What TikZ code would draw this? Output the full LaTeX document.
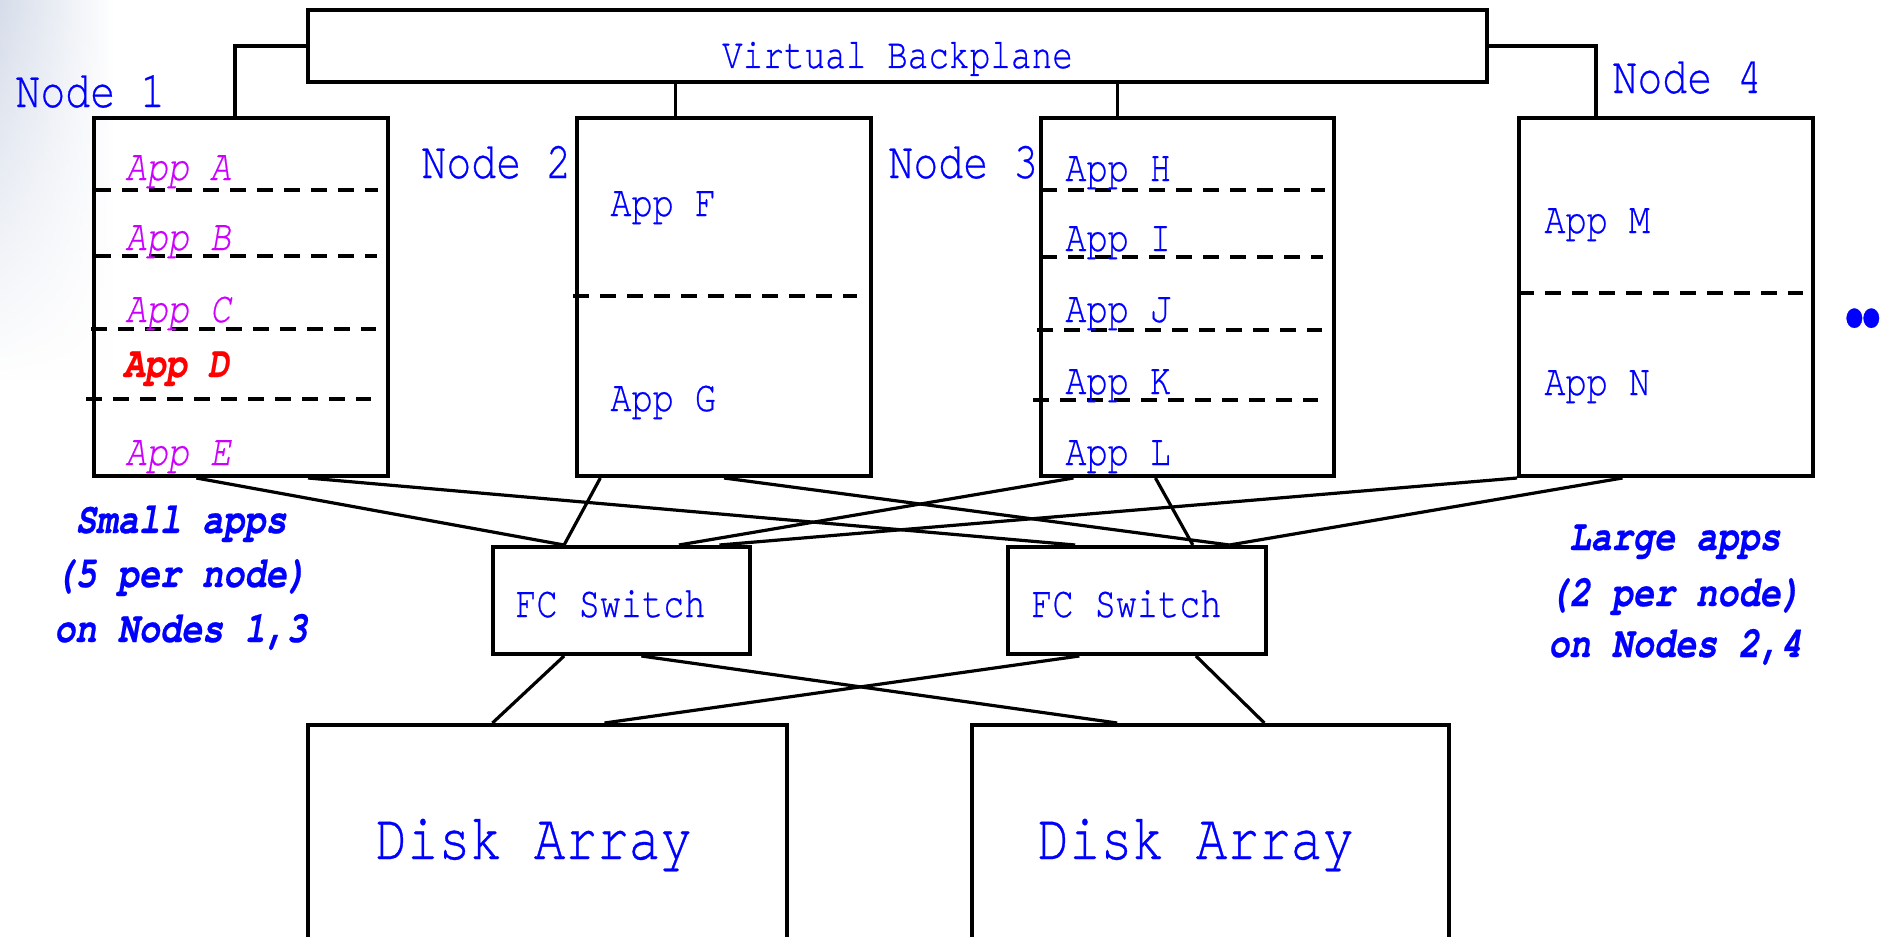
\documentclass[tikz,border=0pt]{standalone}
\usepackage{fontspec}
\newfontfamily\cf[FakeStretch=0.8,FakeBold=0.5]{TeX Gyre Cursor}
\usetikzlibrary{calc,fit,fadings}
\definecolor{appblue}{RGB}{0,0,255}
\definecolor{appmag}{RGB}{204,0,255}
\definecolor{appred}{RGB}{255,0,0}
\definecolor{bgtint}{RGB}{214,221,234}
\begin{document}
\begin{tikzpicture}[x=0.5pt,y=-0.5pt,
  box/.style={draw=black, line width=2pt, inner sep=0pt},
  conn/.style={draw=black, line width=1.6pt},
  divider/.style={draw=black, line width=2pt, dash pattern=on 8pt off 5.5pt},
  lbl/.style={text=appblue, font=\cf\fontsize{26}{30}\selectfont, inner sep=0pt, anchor=base west},
  app/.style={text=appblue, font=\cf\fontsize{22}{26}\selectfont, inner sep=0pt, anchor=base west},
  appi/.style={text=appmag, font=\cf\itshape\fontsize{22}{26}\selectfont, inner sep=0pt, anchor=base west},
  appd/.style={text=appred, font=\cf\bfseries\itshape\fontsize{22}{26}\selectfont, inner sep=0pt, anchor=base west},
  note/.style={text=appblue, font=\cf\bfseries\itshape\fontsize{22}{26}\selectfont, inner sep=0pt, anchor=base},
  big/.style={text=appblue, font=\cf\fontsize{33}{38}\selectfont, inner sep=0pt, anchor=base west},
]
\useasboundingbox (0,0) rectangle (1886,937);
\clip (0,0) rectangle (1886,937);
\fill[white] (0,0) rectangle (1886,937);
\path[left color=bgtint, right color=white, path fading=south] (0,0) rectangle (115,380);

% boxes
\node[box, fit={(308,10)(1487,82)}] (bp) {};
\node[text=appblue, font=\cf\fontsize{21.5}{26}\selectfont, inner sep=0pt, anchor=base] (bptext) at ($(bp.center)+(0,22)$) {Virtual Backplane};
\node[box, fit={(94,118)(388,476)}] (n1) {};
\node[box, fit={(577,118)(871,476)}] (n2) {};
\node[box, fit={(1041,118)(1334,476)}] (n3) {};
\node[box, fit={(1519,118)(1813,476)}] (n4) {};
\node[box, fit={(493,547)(750,654)}] (sw1) {};
\node[box, fit={(1008,547)(1266,654)}] (sw2) {};
\node[box, fit={(308,725)(787,1000)}] (d1) {};
\node[box, fit={(972,725)(1449,1000)}] (d2) {};

% backplane connectors
\draw[conn] (bp.west) -| ($(n1.north west)!0.48!(n1.north east)$);
\draw[conn] (bp.east) -| ($(n4.north west)!0.265!(n4.north east)$);
\coordinate (s2) at ($(n2.north west)!0.337!(n2.north east)$);
\coordinate (s3) at ($(n3.north west)!0.263!(n3.north east)$);
\draw[conn] (s2) -- (s2 |- bp.south);
\draw[conn] (s3) -- (s3 |- bp.south);

% nodes to switches
\draw[conn] ($(n1.south west)!0.35!(n1.south east)$) -- ($(sw1.north west)!0.28!(sw1.north east)$);
\draw[conn] ($(n1.south west)!0.725!(n1.south east)$) -- ($(sw2.north west)!0.264!(sw2.north east)$);
\draw[conn] ($(n2.south west)!0.085!(n2.south east)$) -- ($(sw1.north west)!0.28!(sw1.north east)$);
\draw[conn] ($(n2.south west)!0.5!(n2.south east)$) -- ($(sw2.north west)!0.853!(sw2.north east)$);
\draw[conn] ($(n3.south west)!0.116!(n3.south east)$) -- ($(sw1.north west)!0.72!(sw1.north east)$);
\draw[conn] ($(n3.south west)!0.392!(n3.south east)$) -- ($(sw2.north west)!0.713!(sw2.north east)$);
\draw[conn] (n4.south west) -- ($(sw1.north west)!0.875!(sw1.north east)$);
\draw[conn] ($(n4.south west)!0.354!(n4.south east)$) -- ($(sw2.north west)!0.853!(sw2.north east)$);

% switches to disks
\draw[conn] ($(sw1.south west)!0.28!(sw1.south east)$) -- ($(d1.north west)!0.386!(d1.north east)$);
\draw[conn] ($(sw1.south west)!0.576!(sw1.south east)$) -- ($(d2.north west)!0.306!(d2.north east)$);
\draw[conn] ($(sw2.south west)!0.28!(sw2.south east)$) -- ($(d1.north west)!0.618!(d1.north east)$);
\draw[conn] ($(sw2.south west)!0.725!(sw2.south east)$) -- ($(d2.north west)!0.612!(d2.north east)$);

% dividers
\draw[divider] (95,190) -- (378,190);
\draw[divider] (95,256) -- (377,256);
\draw[divider] (91,329) -- (376,329);
\draw[divider] (86,399) -- (371,399);
\draw[divider] (573,296) -- (857,296);
\draw[divider] (1041,190) -- (1325,190);
\draw[divider] (1041,257) -- (1323,257);
\draw[divider] (1037,330) -- (1322,330);
\draw[divider] (1033,400) -- (1318,400);
\draw[divider] (1518,293) -- (1803,293);

% labels
\node[lbl] (l1) at (15,107) {Node 1};
\node[lbl] (l2) at (421,178) {Node 2};
\node[lbl] (l3) at (888,178) {Node 3};
\node[lbl] (l4) at (1612,93) {Node 4};

\node[appi] (aA) at (125,180) {App A};
\node[appi] (aB) at (125,250) {App B};
\node[appi] (aC) at (125,322) {App C};
\node[appd] (aD) at (123,377) {App D};
\node[appi] (aE) at (125,465) {App E};

\node[app] (aF) at (610,216) {App F};
\node[app] (aG) at (610,411) {App G};

\node[app] (aH) at (1065,181) {App H};
\node[app] (aI) at (1065,251) {App I};
\node[app] (aJ) at (1065,322) {App J};
\node[app] (aK) at (1065,394) {App K};
\node[app] (aL) at (1065,465) {App L};

\node[app] (aM) at (1544,233) {App M};
\node[app] (aN) at (1544,395) {App N};

\node[app] (f1) at (515,617) {FC Switch};
\node[app] (f2) at (1031,617) {FC Switch};

\node[big] (t1) at (375,859) {Disk Array};
\node[big] (t2) at (1037,859) {Disk Array};

\node[note] (sa1) at (181,533) {Small apps};
\node[note] (sa2) at (181,587) {(5 per node)};
\node[note] (sa3) at (181,642) {on Nodes 1,3};

\node[note] (la1) at (1675,550) {Large apps};
\node[note] (la2) at (1675,606) {(2 per node)};
\node[note] (la3) at (1675,657) {on Nodes 2,4};

\node[text=appblue, font=\cf\bfseries\fontsize{27}{30}\selectfont, inner sep=0pt, anchor=base west] (dots) at (1841,330) {•\kern-4.5pt•};
\end{tikzpicture}
\end{document}
